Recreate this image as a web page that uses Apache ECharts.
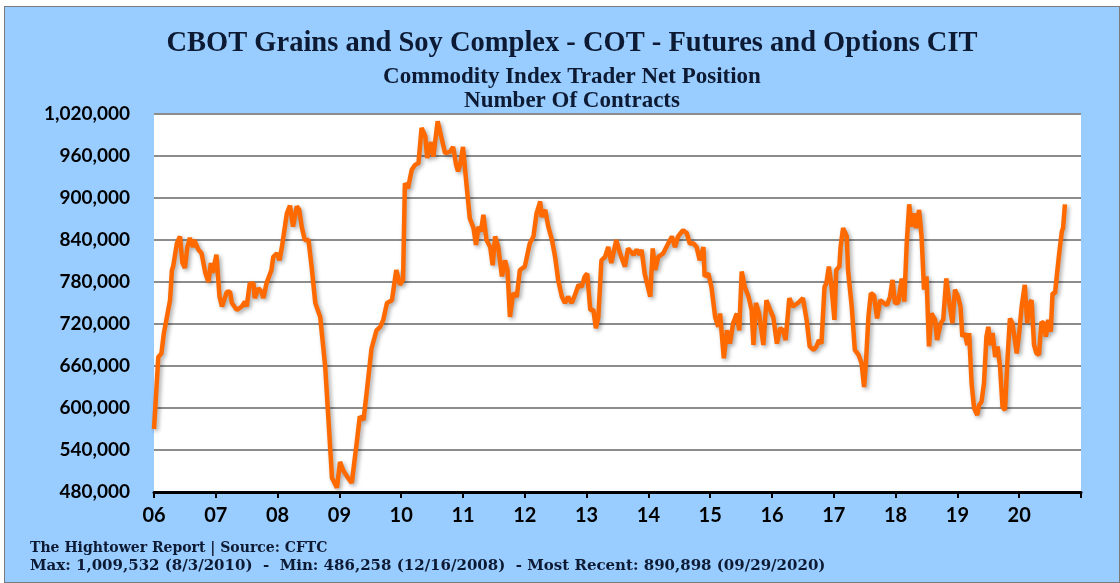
<!DOCTYPE html>
<html>
<head>
<meta charset="utf-8">
<script src="https://cdn.jsdelivr.net/npm/echarts@6/dist/echarts.min.js"></script>
<style>
  html, body { margin: 0; padding: 0; background: #fff; }
  #panel {
    position: absolute; left: 4px; top: 6px; width: 1116px; height: 577px;
    box-sizing: border-box; border: 1px solid #7a7a7a; background: #99ccff;
  }
  #chart { width: 1114px; height: 575px; }
</style>
</head>
<body>
<div id="panel"><div id="chart"></div></div>
<script>
// CIT net position (decimal year -> contracts)
const years = [
  2006.00, 2006.07, 2006.12, 2006.16, 2006.26, 2006.29, 2006.31, 2006.37, 2006.42, 2006.46,
  2006.50, 2006.54, 2006.58, 2006.63, 2006.65, 2006.72, 2006.77, 2006.83, 2006.88, 2006.92,
  2006.95, 2007.01, 2007.06, 2007.10, 2007.18, 2007.23, 2007.26, 2007.34, 2007.42, 2007.47,
  2007.50, 2007.55, 2007.61, 2007.63, 2007.69, 2007.74, 2007.77, 2007.82, 2007.90, 2007.93,
  2007.99, 2008.03, 2008.07, 2008.09, 2008.15, 2008.20, 2008.25, 2008.31, 2008.35, 2008.39,
  2008.44, 2008.50, 2008.55, 2008.61, 2008.69, 2008.77, 2008.82, 2008.88, 2008.96, 2009.01,
  2009.06, 2009.14, 2009.20, 2009.28, 2009.33, 2009.39, 2009.44, 2009.52, 2009.60, 2009.66,
  2009.71, 2009.77, 2009.85, 2009.92, 2009.98, 2010.03, 2010.06, 2010.11, 2010.17, 2010.22,
  2010.28, 2010.33, 2010.39, 2010.42, 2010.48, 2010.52, 2010.59, 2010.66, 2010.71, 2010.79,
  2010.84, 2010.89, 2010.92, 2010.96, 2011.00, 2011.06, 2011.11, 2011.17, 2011.21, 2011.25,
  2011.29, 2011.33, 2011.38, 2011.44, 2011.48, 2011.52, 2011.57, 2011.63, 2011.68, 2011.72,
  2011.76, 2011.81, 2011.87, 2011.92, 2012.00, 2012.08, 2012.14, 2012.19, 2012.25, 2012.27,
  2012.33, 2012.38, 2012.44, 2012.49, 2012.54, 2012.60, 2012.65, 2012.70, 2012.76, 2012.81,
  2012.87, 2012.92, 2012.97, 2013.01, 2013.06, 2013.11, 2013.15, 2013.19, 2013.24, 2013.30,
  2013.35, 2013.40, 2013.48, 2013.54, 2013.62, 2013.67, 2013.76, 2013.81, 2013.86, 2013.89,
  2013.94, 2014.03, 2014.07, 2014.11, 2014.16, 2014.24, 2014.32, 2014.38, 2014.43, 2014.48,
  2014.56, 2014.62, 2014.67, 2014.73, 2014.78, 2014.83, 2014.89, 2014.91, 2014.97, 2015.02,
  2015.08, 2015.13, 2015.16, 2015.22, 2015.27, 2015.32, 2015.37, 2015.43, 2015.47, 2015.51,
  2015.56, 2015.62, 2015.67, 2015.70, 2015.74, 2015.79, 2015.86, 2015.91, 2015.97, 2016.02,
  2016.08, 2016.13, 2016.18, 2016.22, 2016.28, 2016.34, 2016.42, 2016.50, 2016.56, 2016.61,
  2016.67, 2016.72, 2016.76, 2016.80, 2016.85, 2016.88, 2016.92, 2016.96, 2017.01, 2017.04,
  2017.09, 2017.11, 2017.15, 2017.21, 2017.23, 2017.29, 2017.34, 2017.40, 2017.45, 2017.49,
  2017.52, 2017.56, 2017.60, 2017.65, 2017.70, 2017.75, 2017.81, 2017.86, 2017.91, 2017.95,
  2017.99, 2018.04, 2018.10, 2018.14, 2018.18, 2018.22, 2018.26, 2018.30, 2018.33, 2018.38,
  2018.42, 2018.46, 2018.50, 2018.54, 2018.58, 2018.64, 2018.67, 2018.73, 2018.77, 2018.82,
  2018.87, 2018.92, 2018.96, 2019.01, 2019.05, 2019.08, 2019.12, 2019.16, 2019.19, 2019.23,
  2019.27, 2019.32, 2019.35, 2019.39, 2019.43, 2019.47, 2019.50, 2019.53, 2019.57, 2019.61,
  2019.65, 2019.69, 2019.73, 2019.77, 2019.81, 2019.85, 2019.89, 2019.93, 2019.96, 2020.00,
  2020.04, 2020.09, 2020.13, 2020.17, 2020.20, 2020.24, 2020.28, 2020.32, 2020.36, 2020.40,
  2020.43, 2020.47, 2020.51, 2020.54, 2020.58, 2020.61, 2020.65, 2020.69, 2020.71, 2020.74
];
const netPos = [
  570000, 673000, 678000, 707000, 754000, 797000, 802000, 835000, 845000, 807000,
  800000, 830000, 843000, 830000, 840000, 826000, 821000, 793000, 780000, 807000,
  793000, 819000, 759000, 745000, 766000, 766000, 750000, 740000, 745000, 752000,
  745000, 778000, 778000, 757000, 771000, 766000, 757000, 778000, 797000, 816000,
  821000, 811000, 830000, 830000, 878000, 889000, 859000, 888000, 883000, 859000,
  840000, 840000, 802000, 750000, 730000, 659000, 588000, 500000, 486258, 523000,
  511000, 500000, 493000, 550000, 588000, 583000, 621000, 685000, 711000, 716000,
  726000, 750000, 754000, 797000, 776000, 783000, 921000, 914000, 940000, 947000,
  950000, 1000000, 988000, 957000, 980000, 959000, 1009532, 983000, 964000, 966000,
  973000, 947000, 938000, 950000, 973000, 916000, 871000, 857000, 833000, 859000,
  852000, 876000, 840000, 830000, 804000, 845000, 830000, 788000, 811000, 797000,
  730000, 764000, 759000, 797000, 802000, 835000, 845000, 878000, 895000, 873000,
  883000, 859000, 840000, 816000, 783000, 759000, 750000, 759000, 750000, 761000,
  776000, 773000, 788000, 792000, 740000, 740000, 714000, 730000, 811000, 816000,
  830000, 807000, 840000, 821000, 802000, 828000, 819000, 826000, 819000, 826000,
  792000, 759000, 828000, 797000, 816000, 821000, 835000, 845000, 830000, 845000,
  854000, 850000, 835000, 835000, 830000, 811000, 830000, 788000, 792000, 773000,
  730000, 716000, 735000, 671000, 711000, 692000, 721000, 735000, 711000, 795000,
  773000, 759000, 740000, 690000, 750000, 735000, 690000, 754000, 740000, 730000,
  692000, 714000, 711000, 697000, 757000, 745000, 750000, 757000, 726000, 688000,
  683000, 688000, 697000, 692000, 773000, 778000, 802000, 776000, 726000, 797000,
  802000, 830000, 857000, 845000, 797000, 745000, 683000, 676000, 664000, 630000,
  664000, 730000, 764000, 761000, 728000, 754000, 750000, 747000, 759000, 783000,
  750000, 750000, 785000, 752000, 835000, 891000, 859000, 878000, 857000, 883000,
  845000, 769000, 788000, 688000, 735000, 726000, 697000, 721000, 726000, 785000,
  750000, 721000, 769000, 759000, 745000, 702000, 707000, 690000, 707000, 635000,
  600000, 590000, 604000, 609000, 635000, 702000, 716000, 690000, 707000, 673000,
  688000, 659000, 602000, 597000, 669000, 728000, 721000, 697000, 678000, 707000,
  745000, 776000, 721000, 750000, 754000, 690000, 678000, 676000, 723000, 721000,
  702000, 726000, 709000, 764000, 764000, 790000, 823000, 852000, 857000, 890898
];

const yMin = 480000, yMax = 1020000, yStep = 60000;
const xMin = 2006, xMax = 2021;

const titleText = 'CBOT Grains and Soy Complex - COT - Futures and Options CIT';
const subText1 = 'Commodity Index Trader Net Position';
const subText2 = 'Number Of Contracts';
const footer1 = 'The Hightower Report | Source: CFTC';
const footer2 = 'Max: 1,009,532 (8/3/2010)  -  Min: 486,258 (12/16/2008)  - Most Recent: 890,898 (09/29/2020)';

const serif = '"Liberation Serif", "DejaVu Serif", serif';
const navy = '#0d1a33';

const chart = echarts.init(document.getElementById('chart'));
chart.setOption({
  animation: false,
  backgroundColor: 'transparent',
  title: [
    { text: titleText, left: 562, top: 17, textAlign: 'center',
      textStyle: { fontFamily: serif, fontWeight: 'bold', fontSize: 28.5, color: navy } },
    { text: subText1, left: 562, top: 54, textAlign: 'center',
      textStyle: { fontFamily: serif, fontWeight: 'bold', fontSize: 23, color: navy } },
    { text: subText2, left: 562, top: 78, textAlign: 'center',
      textStyle: { fontFamily: serif, fontWeight: 'bold', fontSize: 23, color: navy } }
  ],
  grid: {
    left: 149, top: 107, width: 927, height: 378,
    show: true, backgroundColor: '#ffffff', borderWidth: 0
  },
  xAxis: {
    type: 'value', min: xMin, max: xMax, interval: 1,
    axisLine: { lineStyle: { color: '#000', width: 3 } },
    axisTick: { show: true, length: 6, lineStyle: { color: '#000', width: 2 } },
    splitLine: { show: false },
    axisLabel: {
      margin: 14, color: '#000', fontFamily: 'Lato', fontWeight: 'bold', fontSize: 20,
      formatter: v => v >= xMax ? '' : String(v).slice(2)
    }
  },
  yAxis: {
    type: 'value', min: yMin, max: yMax, interval: yStep,
    axisLine: { show: false },
    axisTick: { show: false },
    splitLine: { lineStyle: { color: '#8c8c8c', width: 2 } },
    axisLabel: {
      margin: 24, color: '#000', fontFamily: 'Lato', fontWeight: 'bold', fontSize: 19,
      formatter: v => v.toLocaleString('en-US')
    }
  },
  series: [{
    type: 'line',
    data: years.map((y, i) => [y, netPos[i]]),
    showSymbol: false,
    lineStyle: {
      color: '#ff6a00', width: 4.5,
      shadowColor: 'rgba(0,0,0,0.35)', shadowBlur: 4, shadowOffsetX: 2, shadowOffsetY: 2
    }
  }],
  graphic: [
    { type: 'text', left: 25, top: 534,
      style: { text: footer1, font: 'bold 14px "DejaVu Serif", serif', fill: navy } },
    { type: 'text', left: 25, top: 552,
      style: { text: footer2, font: 'bold 15px "DejaVu Serif", serif', fill: navy } }
  ]
});
</script>
</body>
</html>
